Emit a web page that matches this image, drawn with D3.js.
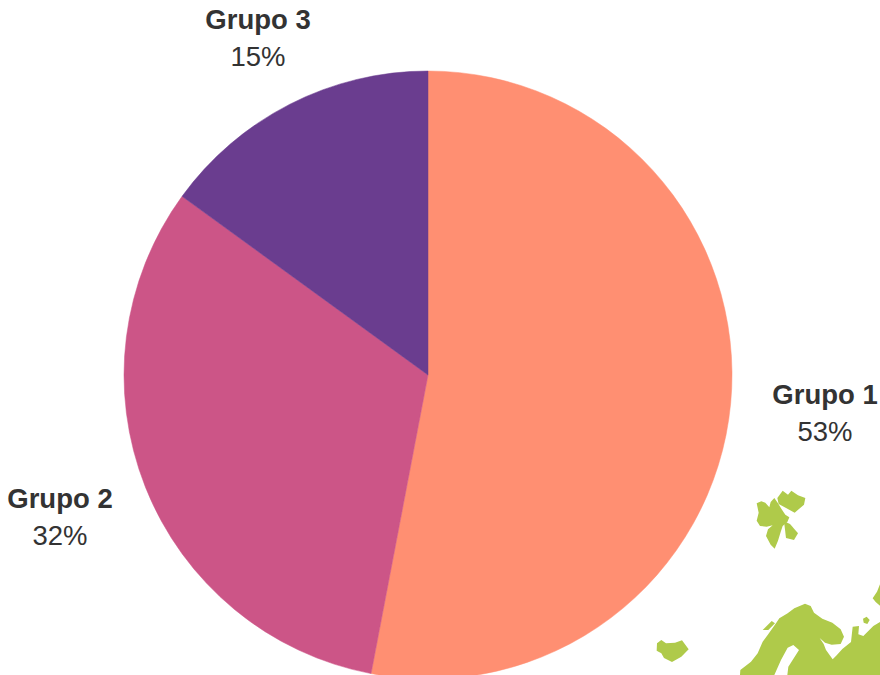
<!DOCTYPE html>
<html>
<head>
<meta charset="utf-8">
<script src="https://cdn.jsdelivr.net/npm/d3@7"></script>
<style>
  html, body { margin: 0; padding: 0; background: #fff; }
  svg { display: block; }
</style>
</head>
<body>
<div id="chart"></div>
<script>
const groups = ['Grupo 1', 'Grupo 2', 'Grupo 3']
const shares = [53, 32, 15]
const colors = ['#ff8f72', '#cc5587', '#6a3d8f']

// background map, outlines
const svalbardMain = [[350,100],[364,94],[376,98],[388,112],[392,96],[403,84],[414,100],[424,116],[436,134],[448,142],[442,156],[428,168],[422,186],[414,212],[404,236],[392,224],[378,198],[384,178],[398,166],[380,170],[360,168],[350,152],[356,128]]
const svalbardNorth = [[412,84],[428,62],[444,74],[454,62],[474,76],[496,84],[492,104],[464,128],[434,112],[416,102]]
const edgeoya = [[432,154],[450,162],[474,190],[462,210],[438,204]]
const iceland = [[51,520],[64,510],[78,520],[105,518],[126,511],[146,538],[124,560],[96,576],[72,564],[64,550],[50,542]]
const mainland = [[300,615],[301,600],[333,575],[353,550],[368,515],[383,495],[408,460],[418,445],[443,430],[463,415],[495,401],[512,408],[522,428],[547,446],[577,458],[602,478],[612,500],[602,522],[575,524],[555,518],[539,504],[551,522],[558,540],[578,568],[590,556],[607,537],[633,516],[638,470],[657,468],[655,493],[670,498],[700,468],[720,456],[720,615],[442,615],[445,590],[477,540],[460,525],[443,533],[423,570],[403,615]]
const lofoten = [[368,480],[395,453],[405,460],[385,480]]
const kolguev = [[669,446],[680,440],[689,450],[682,462],[671,458]]
const novaya = [[720,343],[711,365],[698,385],[707,396],[720,407]]
const land = [svalbardMain, svalbardNorth, edgeoya, iceland, mainland, lofoten, kolguev, novaya]

const width = 880,
  height = 675,
  radius = 304
const labelRadius = 354
const labelHalfWidth = 45

const svg = d3.select('#chart').append('svg')
  .attr('width', width)
  .attr('height', height)
  .attr('viewBox', `0 0 ${width} ${height}`)
  .style('font-family', '"Liberation Sans", sans-serif')

// map crop space to page space
const mapX = d3.scaleLinear().domain([0, 720]).range([640, 880])
const mapY = d3.scaleLinear().domain([0, 615]).range([470, 675])
const outline = d3.line()
  .x(d => mapX(d[0]))
  .y(d => mapY(d[1]))
  .curve(d3.curveLinearClosed)

svg.append('g')
  .style('filter', 'blur(0.6px)')
  .selectAll('path')
  .data(land)
  .enter().append('path')
    .attr('fill', '#afca4a')
    .attr('d', outline)

const pie = d3.pie().sort(null).value(d => d)
const arcs = pie(shares)
const arc = d3.arc().innerRadius(0).outerRadius(radius)

const g = svg.append('g')
  .attr('transform', 'translate(428,375)')

g.selectAll('path')
  .data(arcs)
  .enter().append('path')
    .attr('fill', (d, i) => colors[i])
    .attr('stroke', (d, i) => colors[i])
    .attr('stroke-width', 0.5)
    .attr('d', arc)

const labelArc = d3.arc().innerRadius(labelRadius).outerRadius(labelRadius)

// push the two line block off the pie along the slice's middle angle
const labelPos = d => {
  const [x, y] = labelArc.centroid(d)
  const mid = (d.startAngle + d.endAngle) / 2
  const sin = Math.sin(mid)
  return [x + sin * Math.abs(sin) * labelHalfWidth, y - Math.cos(mid) * 26 - 7]
}

const text = g.selectAll('text')
  .data(arcs)
  .enter().append('text')
    .attr('transform', d => `translate(${labelPos(d)})`)
    .attr('text-anchor', 'middle')
    .attr('fill', '#333')
    .style('font-size', '27.5px')

text.append('tspan')
  .attr('x', 0)
  .attr('y', 0)
  .style('font-weight', 'bold')
  .text((d, i) => groups[i])

text.append('tspan')
  .attr('x', 0)
  .attr('y', 37)
  .text(d => `${d.data}%`)
</script>
</body>
</html>
